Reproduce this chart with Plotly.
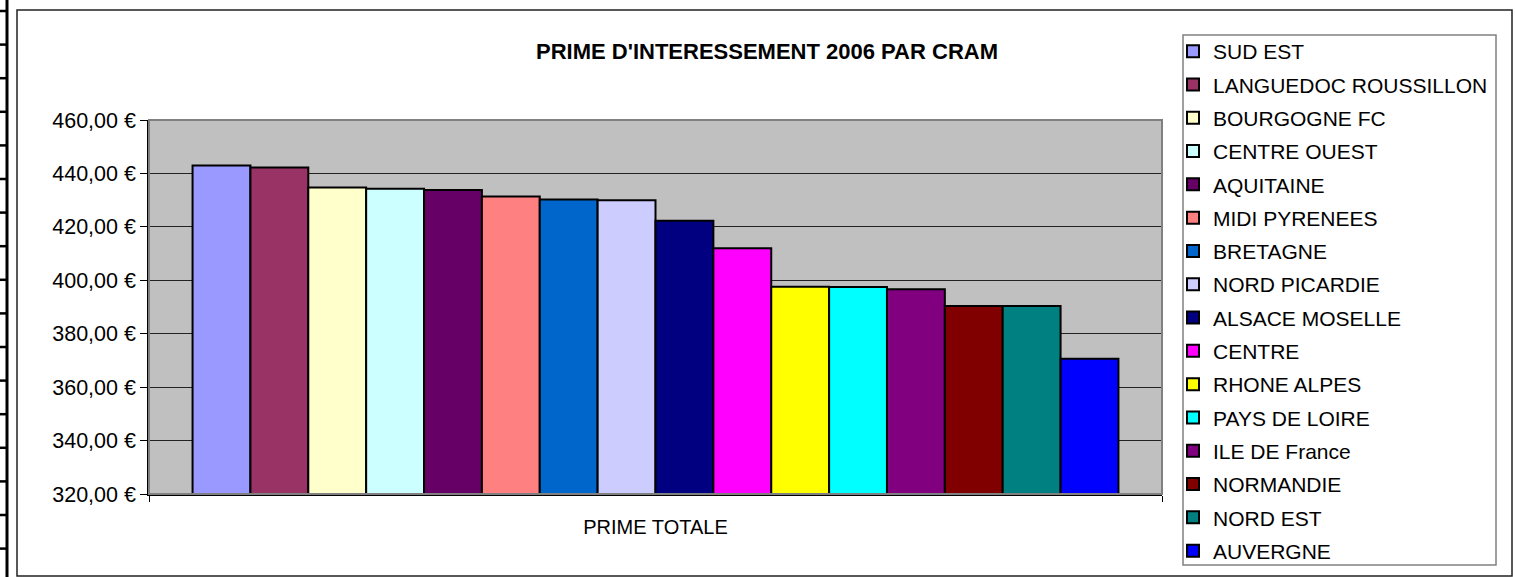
import plotly.graph_objects as go

categories = ["PRIME TOTALE"]
regions = ["SUD EST", "LANGUEDOC ROUSSILLON", "BOURGOGNE FC", "CENTRE OUEST",
           "AQUITAINE", "MIDI PYRENEES", "BRETAGNE", "NORD PICARDIE",
           "ALSACE MOSELLE", "CENTRE", "RHONE ALPES", "PAYS DE LOIRE",
           "ILE DE France", "NORMANDIE", "NORD EST", "AUVERGNE"]
values = [443.0, 442.2, 434.7, 434.3, 433.8, 431.4, 430.2, 430.0,
          422.3, 412.0, 397.6, 397.5, 396.6, 390.4, 390.4, 370.6]
colors = ["#9999FF", "#993366", "#FFFFCC", "#CCFFFF", "#660066", "#FF8080",
          "#0066CC", "#CCCCFF", "#000080", "#FF00FF", "#FFFF00", "#00FFFF",
          "#800080", "#800000", "#008080", "#0000FF"]
y_ticks = [320, 340, 360, 380, 400, 420, 440, 460]
y_tick_labels = ["320,00 €", "340,00 €", "360,00 €", "380,00 €",
                 "400,00 €", "420,00 €", "440,00 €", "460,00 €"]

W, H = 1515, 577
L, R, T, B = 149, 353, 120, 83
PW, PH = W - L - R, H - T - B

def px_x(x):
    return (x - L) / PW

def px_y(y):
    return (H - B - y) / PH

FONT = "Arial, Liberation Sans, sans-serif"

fig = go.Figure()
for name, val, col in zip(regions, values, colors):
    fig.add_trace(go.Bar(
        x=categories, y=[val], name=name, legendgroup=name,
        marker=dict(color=col, line=dict(color="black", width=2)),
    ))

shapes = []
# plot area border (grey)
shapes.append(dict(type="rect", xref="paper", yref="paper", x0=0, x1=1, y0=0, y1=1,
                   line=dict(color="#808080", width=2), layer="above"))
# outer chart border
shapes.append(dict(type="rect", xref="paper", yref="paper",
                   x0=px_x(17), x1=px_x(1512), y0=px_y(576), y1=px_y(10),
                   line=dict(color="#222222", width=1.5), layer="above"))
# legend border
shapes.append(dict(type="rect", xref="paper", yref="paper",
                   x0=px_x(1183), x1=px_x(1496), y0=px_y(565), y1=px_y(35),
                   line=dict(color="#808080", width=1.5), layer="above"))
# spreadsheet row markers on the left
shapes.append(dict(type="line", xref="paper", yref="paper",
                   x0=px_x(7), x1=px_x(7), y0=px_y(0), y1=px_y(577),
                   line=dict(color="black", width=3), layer="above"))
yy = 11.0
while yy < 577:
    shapes.append(dict(type="line", xref="paper", yref="paper",
                       x0=px_x(0), x1=px_x(7), y0=px_y(yy), y1=px_y(yy),
                       line=dict(color="black", width=2.5), layer="above"))
    yy += 33.6

fig.update_layout(
    width=W, height=H,
    margin=dict(l=L, r=R, t=T, b=B, pad=0),
    paper_bgcolor="white", plot_bgcolor="#C0C0C0",
    font=dict(family=FONT, size=20, color="black"),
    barmode="group", bargap=0.086, bargroupgap=0,
    title=dict(text="<b>PRIME D'INTERESSEMENT 2006 PAR CRAM</b>",
               font=dict(family=FONT, size=22, color="black"),
               xref="container", yref="container",
               x=767 / W, y=1 - 51 / H, xanchor="center", yanchor="middle"),
    xaxis=dict(type="category", showgrid=False, showline=True, linecolor="black",
               linewidth=1.5, ticks="outside", tickson="boundaries", ticklen=6,
               tickcolor="black", ticklabelstandoff=14,
               tickfont=dict(family=FONT, size=20)),
    yaxis=dict(range=[320, 460], tickvals=y_ticks, ticktext=y_tick_labels,
               showgrid=True, gridcolor="#222222", gridwidth=1,
               showline=True, linecolor="black", linewidth=1.5,
               ticks="outside", ticklen=7, tickcolor="black",
               zeroline=False, tickfont=dict(family=FONT, size=21.5)),
    legend=dict(xref="container", yref="container",
                x=1173 / W, y=1 - 31 / H, xanchor="left", yanchor="top",
                bgcolor="rgba(0,0,0,0)", borderwidth=0,
                font=dict(family=FONT, size=21, color="black"),
                tracegroupgap=3, itemwidth=30, maxheight=560),
    shapes=shapes,
)

fig.write_html("out.html", config={"displayModeBar": False},
               post_script="document.body.style.margin='0px';")
